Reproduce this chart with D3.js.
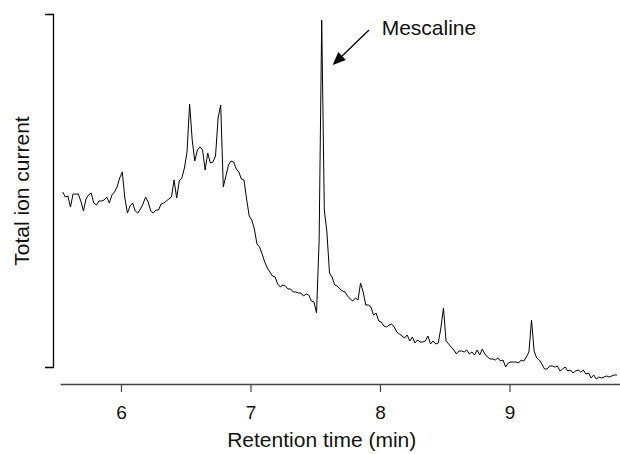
<!DOCTYPE html>
<html>
<head>
<meta charset="utf-8">
<script src="https://cdn.jsdelivr.net/npm/d3@7"></script>
<style>
  html, body { margin: 0; padding: 0; background: #fff; }
  svg { display: block; font-family: "Liberation Sans", Arial, Helvetica, sans-serif; }
</style>
</head>
<body>
<svg id="chart" width="620" height="454"></svg>
<script>
// Retention time (min)
const times = [
5.55,5.57,5.59,5.61,5.63,5.65,5.67,5.69,5.71,5.73,5.75,5.77,5.79,5.81,5.83,5.85,5.87,5.89,5.91,5.93,5.95,5.97,5.99,
6.01,6.03,6.05,6.07,6.09,6.11,6.13,6.15,6.17,6.19,6.21,6.23,6.25,6.27,6.29,6.31,6.33,6.35,6.37,6.39,6.41,6.43,6.45,6.47,6.49,
6.51,6.53,6.55,6.57,6.59,6.61,6.63,6.65,6.67,6.69,6.71,6.73,6.75,6.77,6.79,6.81,6.83,6.85,6.87,6.89,6.91,6.93,6.95,6.97,6.99,
7.01,7.03,7.05,7.07,7.09,7.11,7.13,7.15,7.17,7.19,7.21,7.23,7.25,7.27,7.29,7.31,7.33,7.35,7.37,7.39,7.41,7.43,7.45,7.47,7.49,
7.51,7.53,7.55,7.57,7.59,7.61,7.63,7.65,7.67,7.69,7.71,7.73,7.75,7.77,7.79,7.81,7.83,7.85,7.87,7.89,7.91,7.93,7.95,7.97,7.99,
8.01,8.03,8.05,8.07,8.09,8.11,8.13,8.15,8.17,8.19,8.21,8.23,8.25,8.27,8.29,8.31,8.33,8.35,8.37,8.39,8.41,8.43,8.45,8.47,8.49,
8.51,8.53,8.55,8.57,8.59,8.61,8.63,8.65,8.67,8.69,8.71,8.73,8.75,8.77,8.79,8.81,8.83,8.85,8.87,8.89,8.91,8.93,8.95,8.97,8.99,
9.01,9.03,9.05,9.07,9.09,9.11,9.13,9.15,9.17,9.19,9.21,9.23,9.25,9.27,9.29,9.31,9.33,9.35,9.37,9.39,9.41,9.43,9.45,9.47,9.49,
9.51,9.53,9.55,9.57,9.59,9.61,9.63,9.65,9.67,9.69,9.71,9.73,9.75,9.77,9.79,9.81,9.83
];
// Total ion current (arbitrary units)
const ionCurrent = [
195,190,191,180,193,193,193,186,176,188,192,194,184,182,186,186,187,190,184,192,195,200,209,
215,189,174,181,184,176,174,178,183,190,185,176,174,177,177,183,184,186,188,190,207,189,206,209,219,
235,283,247,226,237,240,237,217,234,224,225,231,269,282,200,211,222,226,225,218,215,208,207,188,171,
167,158,143,140,133,125,119,115,111,110,103,100,102,101,98,98,95,95,94,94,91,93,92,86,85,
74,147,367,177,155,114,110,102,101,98,96,95,91,88,86,89,87,104,95,82,82,80,72,74,66,
65,61,60,62,63,60,55,53,51,49,52,46,50,44,47,45,45,46,51,43,46,43,44,59,79,
46,43,40,37,33,36,36,35,37,33,35,32,37,32,38,33,30,28,28,27,29,26,27,20,24,
25,25,25,24,27,26,30,35,67,36,29,27,23,18,18,21,21,20,21,16,18,20,16,17,14,
16,17,15,17,13,14,9,12,8,10,9,10,11,10,11,12,12
];
const xTicks = [6, 7, 8, 9];
const xDomain = [5.53, 9.85];
const yDomain = [20, 373];
const xLabel = "Retention time (min)";
const yLabel = "Total ion current";
const peakLabel = "Mescaline";
// annotation anchor points (time, intensity)
const arrowTail = [7.915, 357];
const arrowTip = [7.635, 322];
const labelAt = [8.013, 352];
const xLabelCenter = 7.55;

const svg = d3.select("#chart");
const x = d3.scaleLinear().domain(xDomain).range([60.1, 619.6]);
const y = d3.scaleLinear().domain(yDomain).range([367, 14]);
const axisY = 384;

// Y bracket axis (no ticks, outer ticks form the bracket)
svg.append("g")
  .attr("transform", "translate(53,0)")
  .call(d3.axisLeft(y).tickValues([]).tickSizeOuter(8))
  .call(g => g.select(".domain").attr("stroke", "#000").attr("stroke-width", 1.3).attr("fill", "none"));

// X axis
const gx = svg.append("g")
  .attr("transform", `translate(0,${axisY})`)
  .call(d3.axisBottom(x).tickValues(xTicks).tickFormat(d3.format("d")).tickSize(8).tickSizeOuter(0).tickPadding(14));
gx.select(".domain").attr("stroke", "#444").attr("stroke-width", 1.6);
gx.selectAll(".tick line").attr("stroke", "#444").attr("stroke-width", 1.2);
gx.selectAll(".tick text").attr("fill", "#111").attr("font-size", 19).attr("font-family", "Liberation Sans, Arial, sans-serif");

// Line
const data = times.map((t, i) => [t, ionCurrent[i]]);
svg.append("path")
  .datum(data)
  .attr("fill", "none")
  .attr("stroke", "#000")
  .attr("stroke-width", 1)
  .attr("stroke-linejoin", "round")
  .attr("d", d3.line().x(d => x(d[0])).y(d => y(d[1])));

// Axis titles
svg.append("text")
  .attr("x", x(xLabelCenter))
  .attr("y", 447)
  .attr("text-anchor", "middle")
  .attr("font-size", 21)
  .attr("fill", "#111")
  .text(xLabel);

svg.append("text")
  .attr("transform", "translate(29,191) rotate(-90)")
  .attr("text-anchor", "middle")
  .attr("font-size", 21)
  .attr("fill", "#111")
  .text(yLabel);

// Annotation
const tx = x(arrowTail[0]), ty = y(arrowTail[1]);
const hx = x(arrowTip[0]), hy = y(arrowTip[1]);
const ang = Math.atan2(hy - ty, hx - tx);
const headLen = 13, headW = 5.5;
const bx = hx - headLen * Math.cos(ang), by = hy - headLen * Math.sin(ang);
svg.append("line")
  .attr("x1", tx).attr("y1", ty).attr("x2", bx).attr("y2", by)
  .attr("stroke", "#000").attr("stroke-width", 1.3);
svg.append("path")
  .attr("d", `M${hx},${hy}L${bx - headW * Math.sin(ang)},${by + headW * Math.cos(ang)}L${bx + headW * Math.sin(ang)},${by - headW * Math.cos(ang)}Z`)
  .attr("fill", "#000");
svg.append("text")
  .attr("x", x(labelAt[0]))
  .attr("y", y(labelAt[1]))
  .attr("font-size", 21)
  .attr("fill", "#111")
  .text(peakLabel);
</script>
</body>
</html>
